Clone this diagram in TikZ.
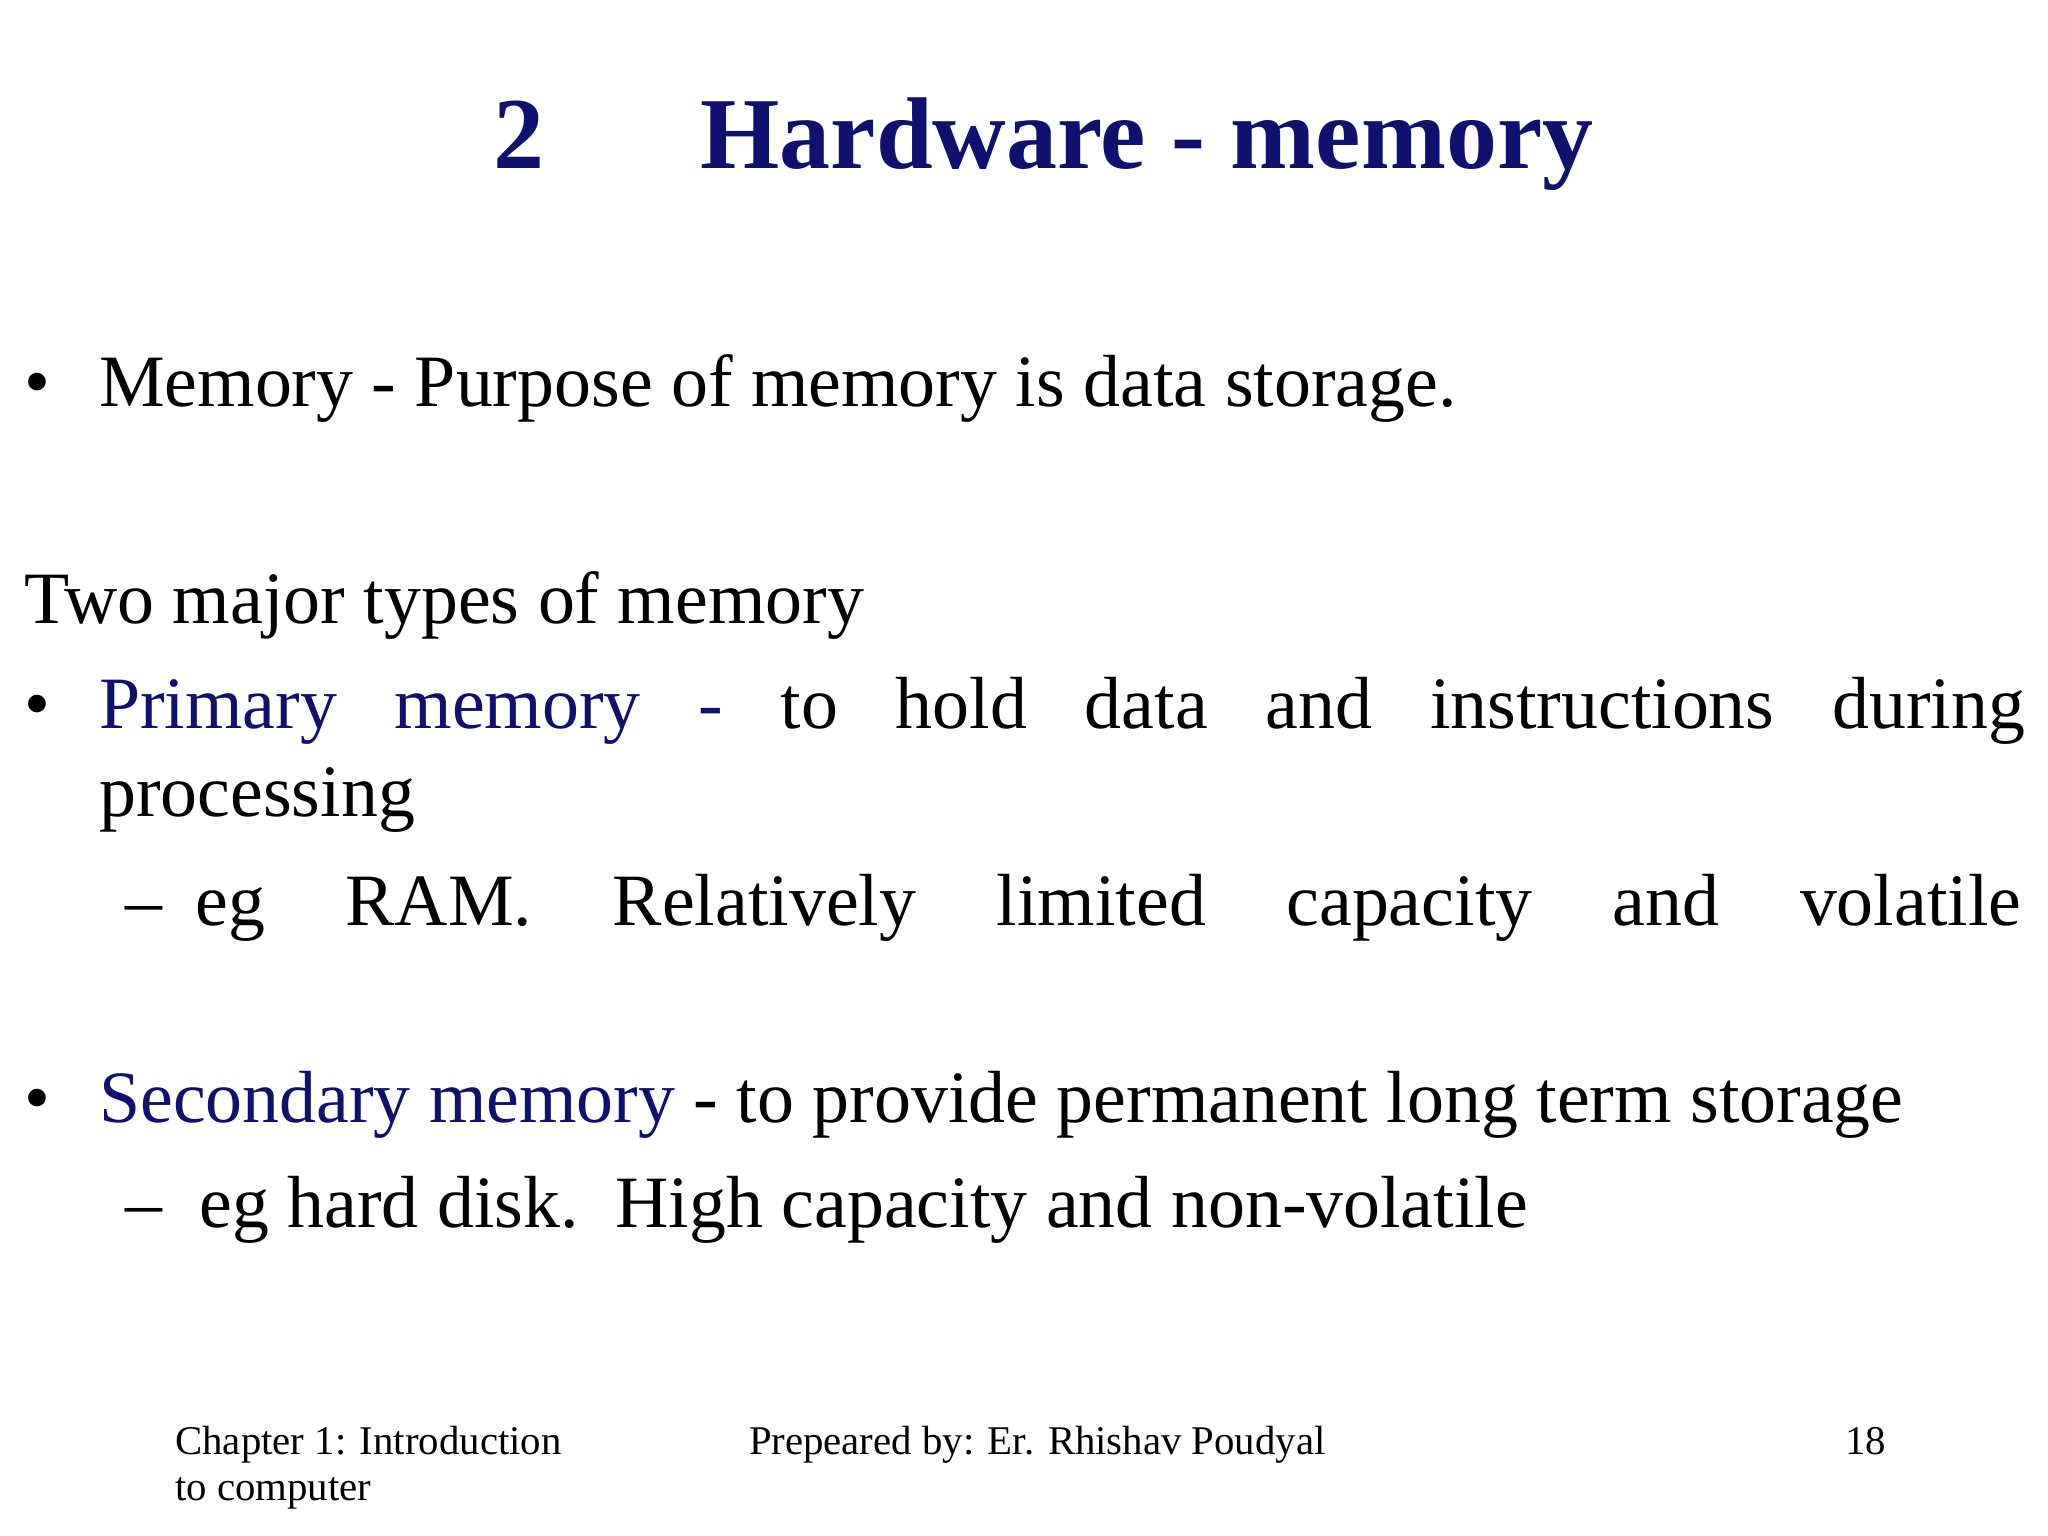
\documentclass[tikz,border=0pt]{standalone}
\usepackage{fontspec}
\setmainfont{Liberation Serif}
\definecolor{slidenavy}{RGB}{16,16,110}
\tikzset{x=0.01313cm, y=-0.01313cm,
  body text/.style={anchor=base west, inner sep=0pt, font=\fontsize{21}{25}\selectfont},
  title text/.style={anchor=base west, inner sep=0pt, text=slidenavy,
    font=\fontsize{29}{35}\selectfont\bfseries},
  foot text/.style={anchor=base west, inner sep=0pt, font=\fontsize{11.6}{14}\selectfont}}
\newcommand\keyword[1]{\textcolor{slidenavy}{#1}}
\begin{document}
\begin{tikzpicture}
\useasboundingbox (0,0) rectangle (1560,1170);
% title
\node (Number) [title text] at (375,128) {2};
\node (Title) [title text] at (533,128) {Hardware - memory};
% bullets
\node (b1) [body text] at (18,310) {\textbullet};
\node (Purpose) [body text] at (75,310) {Memory - Purpose of memory is data storage.};
\node (Types) [body text] at (18,475) {Two major types of memory};
\node (b2) [body text] at (18,555) {\textbullet};
\node (PrimaryLine) [body text] at (75,555)
  {\makebox[19.25cm][s]{\keyword{Primary memory -} to hold data and instructions during}};
\node (Processing) [body text] at (75,622) {processing};
\node (Ram) [body text] at (95,705)
  {\makebox[18.95cm][s]{–\kern0.45em eg RAM. Relatively limited capacity and volatile}};
\node (b3) [body text] at (18,855) {\textbullet};
\node (Secondary) [body text] at (75,855)
  {\keyword{Secondary memory} - to provide permanent long term storage};
\node (Disk) [body text] at (95,935) {–\ \ eg hard disk.\ \ High capacity and non-volatile};
% footer
\node (Chapter) [foot text] at (133,1108) {Chapter 1: Introduction};
\node (Chapter2) [foot text] at (133,1143) {to computer};
\node (Author) [foot text] at (570,1108) {Prepeared by: Er. Rhishav Poudyal};
\node (Page) [foot text] at (1405,1108) {18};
\end{tikzpicture}
\end{document}
